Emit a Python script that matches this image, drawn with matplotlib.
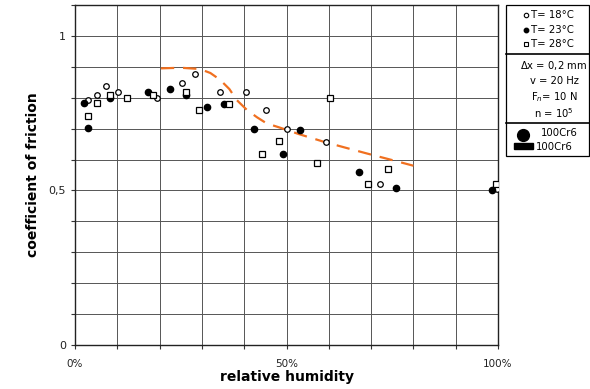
import matplotlib
matplotlib.use("Agg")
import matplotlib.pyplot as plt
from matplotlib.patches import Rectangle
import numpy as np

# Data (relative humidity in %, coefficient of friction)
t18_x = [3.1, 5.3, 7.3, 10.2, 19.3, 25.3, 28.3, 34.3, 40.4, 45.2, 50.2, 59.3, 72.1, 99.7]
t18_y = [0.793, 0.809, 0.838, 0.819, 0.800, 0.847, 0.877, 0.818, 0.817, 0.761, 0.698, 0.658, 0.522, 0.504]

t23_x = [2.1, 3.1, 8.3, 17.2, 22.4, 26.2, 31.3, 35.3, 42.2, 49.2, 53.1, 67.2, 76.0, 98.6]
t23_y = [0.782, 0.701, 0.800, 0.819, 0.827, 0.808, 0.769, 0.779, 0.698, 0.618, 0.697, 0.561, 0.509, 0.502]

t28_x = [3.1, 5.3, 8.3, 12.2, 18.4, 26.2, 29.3, 36.3, 44.1, 48.2, 57.1, 60.4, 69.2, 74.1, 99.5]
t28_y = [0.742, 0.782, 0.809, 0.800, 0.809, 0.817, 0.761, 0.779, 0.618, 0.659, 0.590, 0.798, 0.520, 0.570, 0.522]

trend_x = [20.3, 25.0, 29.5, 32.0, 34.3, 36.5, 38.2, 40.6, 43.0, 45.3, 48.5, 53.0, 58.7, 63.5, 68.9, 74.5, 80.0]
trend_y = [0.895, 0.897, 0.893, 0.880, 0.858, 0.828, 0.793, 0.761, 0.737, 0.717, 0.703, 0.682, 0.658, 0.640, 0.620, 0.600, 0.580]

legend_lines = ["T= 18°C", "T= 23°C", "T= 28°C"]
cond_lines = [r"$\Delta$x = 0,2 mm", "v = 20 Hz", r"F$_n$= 10 N", r"n = 10$^5$"]
mat_lines = ["100Cr6", "100Cr6"]

fig = plt.figure(figsize=(5.9, 3.89), dpi=100)
ax = fig.add_axes([75/590, 1-345/389, (498-75)/590, 340/389])

ax.set_xlim(0, 100)
ax.set_ylim(0, 1.1)
ax.set_xticks(np.arange(0, 101, 10))
ax.set_yticks(np.arange(0, 1.11, 0.1))
ax.grid(True, color="#555555", linewidth=0.7)
ax.set_axisbelow(True)
ax.set_xticklabels(["0%", "", "", "", "", "50%", "", "", "", "", "100%"], fontsize=7.5, color="#222222")
ax.set_yticklabels(["0", "", "", "", "", "0,5", "", "", "", "", "1", ""], fontsize=8, color="#222222")
ax.tick_params(axis="both", length=3, width=0.8, color="#333333")
ax.tick_params(axis="x", pad=7)
for s in ax.spines.values():
    s.set_color("#222222")
    s.set_linewidth(1.0)

ax.plot(trend_x, trend_y, color="#f07020", linewidth=1.6, dashes=(6, 4), zorder=2)

ax.plot(t18_x, t18_y, linestyle="none", marker="o", markersize=4, markerfacecolor="white",
        markeredgecolor="black", markeredgewidth=0.9, zorder=3)
ax.plot(t23_x, t23_y, linestyle="none", marker="o", markersize=4.5, markerfacecolor="black",
        markeredgecolor="black", zorder=3)
ax.plot(t28_x, t28_y, linestyle="none", marker="s", markersize=5, markerfacecolor="white",
        markeredgecolor="black", markeredgewidth=0.9, zorder=3)

ax.set_ylabel("coefficient of friction", fontsize=10, fontweight="bold", labelpad=6)
ax.set_xlabel("relative humidity", fontsize=10, fontweight="bold", labelpad=1)

# Legend box in pixel-based figure coordinates
lax = fig.add_axes([0, 0, 1, 1], facecolor="none")
lax.set_xlim(0, 590)
lax.set_ylim(389, 0)
lax.axis("off")
lax.add_patch(Rectangle((506, 5), 83, 151, fill=False, edgecolor="black", linewidth=0.9))
lax.plot([506, 589], [54, 54], color="black", linewidth=1.2)
lax.plot([506, 589], [123, 123], color="black", linewidth=1.2)

marker_styles = [dict(marker="o", markersize=3.2, markerfacecolor="white", markeredgecolor="black", markeredgewidth=0.8),
                 dict(marker="o", markersize=3.2, markerfacecolor="black", markeredgecolor="black"),
                 dict(marker="s", markersize=3.2, markerfacecolor="white", markeredgecolor="black", markeredgewidth=0.8)]
for i, (lab, ms) in enumerate(zip(legend_lines, marker_styles)):
    yy = 15 + i * 14.5
    lax.plot([526], [yy], linestyle="none", **ms)
    lax.text(531, yy, lab, fontsize=7.3, va="center", ha="left", family="DejaVu Sans")

for i, lab in enumerate(cond_lines):
    yy = 65 + i * 16
    lax.text(554, yy, lab, fontsize=7.2, va="center", ha="center", family="DejaVu Sans")

lax.plot([523], [135], linestyle="none", marker="o", markersize=8.5, color="black")
lax.text(541, 133, mat_lines[0], fontsize=7.3, va="center", ha="left", family="DejaVu Sans")
lax.add_patch(Rectangle((514, 143), 19, 6, color="black"))
lax.text(536, 146.5, mat_lines[1], fontsize=7.3, va="center", ha="left", family="DejaVu Sans")

fig.savefig("out.png", dpi=100)
